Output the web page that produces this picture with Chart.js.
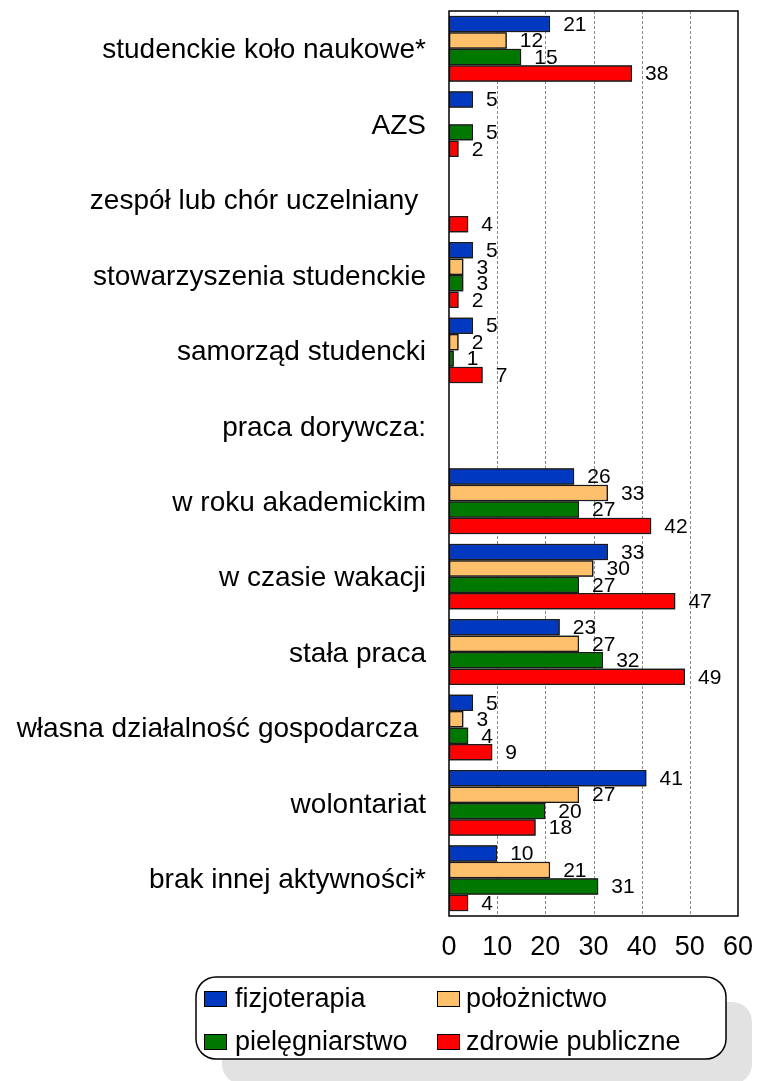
<!DOCTYPE html>
<html><head><meta charset="utf-8">
<script src="https://cdn.jsdelivr.net/npm/chart.js@4.4.0/dist/chart.umd.min.js"></script>
<style>html,body{margin:0;padding:0;background:#fff;} #wrap{width:757px;height:1081px;position:relative;}</style>
</head><body><div id="wrap"><canvas id="c" width="757" height="1081"></canvas></div>
<script>
const categories = ["studenckie koło naukowe*","AZS","zespół lub chór uczelniany ","stowarzyszenia studenckie","samorząd studencki","praca dorywcza:","w roku akademickim","w czasie wakacji","stała praca","własna działalność gospodarcza ","wolontariat","brak innej aktywności*"];
const seriesNames = ["fizjoterapia","położnictwo","pielęgniarstwo","zdrowie publiczne"];
const fizjoterapia     = [21, 5,    null, 5, 5, null, 26, 33, 23, 5, 41, 10];
const poloznictwo      = [12, null, null, 3, 2, null, 33, 30, 27, 3, 27, 21];
const pielegniarstwo   = [15, 5,    null, 3, 1, null, 27, 27, 32, 4, 20, 31];
const zdrowiePubliczne = [38, 2,    4,    2, 7, null, 42, 47, 49, 9, 18, 4];
const xTickMin = 0, xTickMax = 60, xTickStep = 10;
const seriesColors = ['#0038C0','#FFC06C','#007800','#FF0000'];

const FONT = '"Liberation Sans", Arial, sans-serif';

function roundRect(ctx,x,y,w,h,r){ctx.beginPath();ctx.moveTo(x+r,y);ctx.arcTo(x+w,y,x+w,y+h,r);ctx.arcTo(x+w,y+h,x,y+h,r);ctx.arcTo(x,y+h,x,y,r);ctx.arcTo(x,y,x+w,y,r);ctx.closePath();}

const customPlugin = {
  id:'custom',
  beforeDatasetsDraw(chart){
    const {ctx, chartArea:a, scales:{x}} = chart;
    ctx.save();
    ctx.strokeStyle='#8a8a8a'; ctx.lineWidth=1; ctx.setLineDash([3,2]);
    for (let v = xTickMin + xTickStep; v < xTickMax; v += xTickStep) {
      const px = Math.round(x.getPixelForValue(v)) + 0.5;
      ctx.beginPath(); ctx.moveTo(px, a.top); ctx.lineTo(px, a.bottom); ctx.stroke();
    }
    ctx.restore();
  },
  afterDatasetsDraw(chart){
    const ctx = chart.ctx;
    chart.data.datasets.forEach((ds,i)=>{
      const meta = chart.getDatasetMeta(i);
      meta.data.forEach((bar,j)=>{ if (ds.data[j]==null) return; bar.draw(ctx); });
      ctx.save(); ctx.font = '21px ' + FONT; ctx.fillStyle='#000'; ctx.textAlign='left'; ctx.textBaseline='middle';
      meta.data.forEach((bar,j)=>{ const v = ds.data[j]; if (v==null) return; ctx.fillText(String(v), bar.x + 13, bar.y + 1); });
      ctx.restore();
    });
    const a = chart.chartArea;
    ctx.save(); ctx.strokeStyle='#000'; ctx.lineWidth=1.5; ctx.setLineDash([]);
    ctx.strokeRect(a.left, a.top, a.right-a.left, a.bottom-a.top);
    ctx.restore();
  },
  afterDraw(chart){
    const ctx = chart.ctx;
    ctx.save();
    roundRect(ctx,222,1002,530,82,20); ctx.fillStyle='#e2e2e2'; ctx.fill();
    roundRect(ctx,196,977,530,82,20); ctx.fillStyle='#fff'; ctx.fill();
    ctx.lineWidth=1.5; ctx.strokeStyle='#000'; ctx.stroke();
    const pos = [[204,991,235],[437,991,466],[204,1034,235],[437,1034,466]];
    ctx.font = '27px ' + FONT; ctx.textAlign='left'; ctx.textBaseline='middle';
    chart.data.datasets.forEach((ds,i)=>{
      const [sx,sy,tx] = pos[i];
      ctx.fillStyle = ds.backgroundColor; ctx.fillRect(sx,sy,22,15);
      ctx.lineWidth=1; ctx.strokeStyle='#000'; ctx.strokeRect(sx+0.5,sy+0.5,22,15);
      ctx.fillStyle='#000'; ctx.fillText(ds.label, tx, sy+8.5);
    });
    ctx.restore();
  }
};

const seriesData = [fizjoterapia, poloznictwo, pielegniarstwo, zdrowiePubliczne];
new Chart(document.getElementById('c'), {
  type:'bar',
  data:{
    labels: categories,
    datasets: seriesData.map((d,i)=>({
      label: seriesNames[i], data: d, backgroundColor: seriesColors[i],
      borderColor:'#1a1a1a', borderWidth:1.5, borderSkipped:false,
      categoryPercentage:0.875, barPercentage:1.0
    }))
  },
  options:{
    indexAxis:'y', responsive:false, animation:false,
    layout:{padding:{left:0,right:19,top:11,bottom:0}},
    plugins:{legend:{display:false}, tooltip:{enabled:false}},
    scales:{
      x:{ min:xTickMin, max:xTickMax,
        ticks:{stepSize:xTickStep, color:'#000', font:{family:FONT, size:27}, padding:15, maxRotation:0, autoSkip:false},
        grid:{display:false, drawTicks:false}, border:{display:false},
        afterFit(s){ s.height = 165; s.paddingLeft = 0; s.paddingRight = 0; s.paddingTop = 0; s.paddingBottom = 0; } },
      y:{ ticks:{color:'#000', font:{family:FONT, size:28}, padding:23, autoSkip:false, labelOffset:2},
        grid:{display:false, drawTicks:false}, border:{display:false},
        afterFit(s){ s.width = 449; s.paddingLeft = 0; s.paddingRight = 0; s.paddingTop = 0; s.paddingBottom = 0; } }
    }
  },
  plugins:[customPlugin]
});
</script></body></html>
